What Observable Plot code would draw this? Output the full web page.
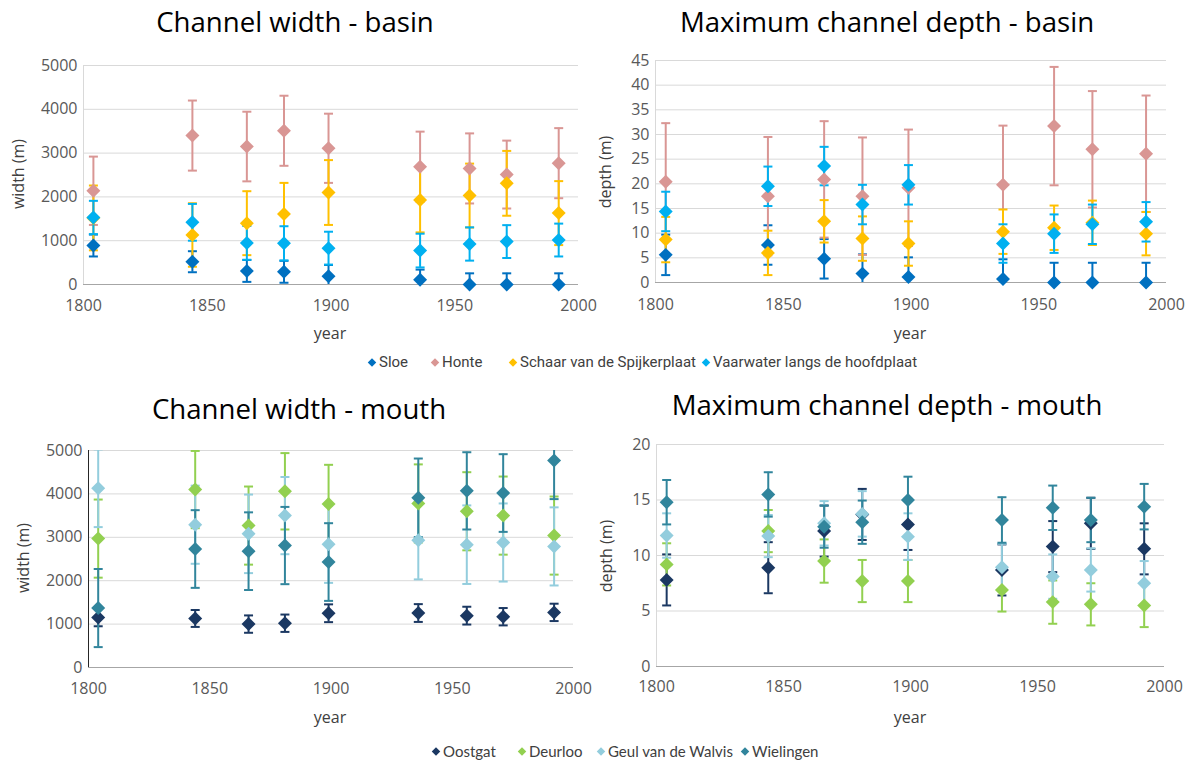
<!DOCTYPE html>
<html>
<head>
<meta charset="utf-8">
<script src="https://cdn.jsdelivr.net/npm/d3@7"></script>
<script src="https://cdn.jsdelivr.net/npm/@observablehq/plot@0.6"></script>
<style>
  html, body { margin: 0; padding: 0; background: #fff; }
  #page { position: relative; width: 1189px; height: 763px; background: #fff; overflow: hidden; font-family: "Open Sans", sans-serif; }
  .title { position: absolute; width: 600px; text-align: center; font-size: 27.6px; color: #000; white-space: nowrap; line-height: 1; }
  .axlabel { position: absolute; font-size: 16px; color: #404040; white-space: nowrap; line-height: 1; transform: translate(-50%, -50%); }
  .ylab { transform: translate(-50%, -50%) rotate(-90deg); }
  .chart { position: absolute; }
  .leg { position: absolute; white-space: nowrap; line-height: 1; color: #404040; transform: translateY(-50%); display: flex; align-items: center; }
  .leg i { display: inline-block; width: 6px; height: 6px; transform: rotate(45deg); margin-right: 4px; }
</style>
</head>
<body>
<div id="page"></div>
<script>
// Survey years shared by all four panels
const years = [1804, 1844, 1866, 1881, 1899, 1936, 1956, 1971, 1992];
const yearTicks = [1800, 1850, 1900, 1950, 2000];

// Basin channels: width (m) and error margin
const sloeWidth = [890, 520, 310, 290, 190, 110, 0, 0, 0];
const sloeWidthErr = [250, 240, 250, 250, 255, 230, 255, 255, 255];
const honteWidth = [2140, 3400, 3150, 3510, 3110, 2690, 2650, 2510, 2770];
const honteWidthErr = [780, 800, 795, 800, 790, 800, 800, 775, 800];
const schaarWidth = [1520, 1130, 1400, 1610, 2100, 1930, 2030, 2310, 1630];
const schaarWidthErr = [740, 725, 730, 710, 740, 740, 730, 740, 730];
const vaarwaterWidth = [1530, 1420, 950, 940, 830, 775, 925, 980, 1015];
const vaarwaterWidthErr = [380, 420, 385, 390, 375, 385, 380, 375, 375];

// Basin channels: maximum depth (m) and error margin
const sloeDepth = [5.6, 7.6, 4.8, 1.8, 1.1, 0.7, 0, 0, 0];
const sloeDepthErr = [4.1, 4.0, 4.0, 3.9, 4.0, 4.0, 4.0, 4.0, 4.0];
const honteDepth = [20.4, 17.5, 20.9, 17.5, 19.2, 19.8, 31.7, 27.0, 26.1];
const honteDepthErr = [11.9, 12.0, 11.8, 11.9, 11.8, 12.0, 12.0, 11.8, 11.8];
const schaarDepth = [8.7, 6.0, 12.4, 8.9, 7.9, 10.3, 11.1, 12.1, 9.9];
const schaarDepthErr = [4.6, 4.5, 4.3, 4.5, 4.5, 4.5, 4.5, 4.5, 4.4];
const vaarwaterDepth = [14.4, 19.5, 23.6, 15.8, 19.8, 7.9, 9.9, 11.8, 12.3];
const vaarwaterDepthErr = [4.0, 4.0, 3.9, 4.0, 4.0, 3.9, 3.9, 4.0, 4.0];

// Mouth channels: width (m) and error margin
const oostgatWidth = [1150, 1130, 1000, 1020, 1250, 1255, 1195, 1170, 1270];
const oostgatWidthErr = [200, 195, 200, 200, 205, 205, 205, 200, 200];
const deurlooWidth = [2970, 4100, 3270, 4060, 3770, 3780, 3600, 3500, 3040];
const deurlooWidthErr = [900, 890, 900, 880, 900, 900, 900, 900, 900];
const walvisWidth = [4130, 3290, 3080, 3500, 2840, 2930, 2830, 2880, 2790];
const walvisWidthErr = [895, 900, 905, 890, 890, 900, 905, 900, 900];
const wielingenWidth = [1370, 2730, 2680, 2810, 2430, 3910, 4070, 4020, 4770];
const wielingenWidthErr = [900, 895, 895, 890, 895, 905, 890, 895, 890];

// Mouth channels: maximum depth (m) and error margin
const oostgatDepth = [7.8, 8.9, 12.2, 13.7, 12.8, 8.7, 10.8, 12.9, 10.6];
const oostgatDepthErr = [2.3, 2.3, 2.3, 2.3, 2.3, 2.3, 2.3, 2.3, 2.3];
const deurlooDepth = [9.2, 12.2, 9.5, 7.7, 7.7, 6.9, 5.8, 5.6, 5.5];
const deurlooDepthErr = [1.9, 1.9, 1.95, 1.9, 1.9, 1.95, 1.95, 1.9, 1.95];
const walvisDepth = [11.8, 11.75, 12.9, 13.75, 11.7, 8.95, 8.1, 8.7, 7.5];
const walvisDepthErr = [2.0, 1.9, 2.0, 2.05, 2.1, 2.1, 2.0, 1.95, 2.0];
const wielingenDepth = [14.8, 15.5, 12.6, 13.0, 15.0, 13.2, 14.3, 13.2, 14.4];
const wielingenDepthErr = [2.0, 2.0, 1.9, 1.95, 2.1, 2.05, 2.0, 2.0, 2.05];

const basinNames = ["Sloe", "Honte", "Schaar van de Spijkerplaat", "Vaarwater langs de hoofdplaat"];
const basinColors = ["#0070c0", "#d99694", "#ffc000", "#00b0f0"];
const mouthNames = ["Oostgat", "Deurloo", "Geul van de Walvis", "Wielingen"];
const mouthColors = ["#1b3862", "#92d050", "#93cddd", "#31859c"];

const page = document.getElementById("page");

function rows(values, errs) {
  return years.map((year, i) => ({year, v: values[i], lo: values[i] - errs[i], hi: values[i] + errs[i]}));
}

// Short horizontal cap for the error whiskers
const cap = {draw(ctx) { ctx.moveTo(-4.5, 0); ctx.lineTo(4.5, 0); }};

function whiskerMarks(data, color) {
  return [
    Plot.ruleX(data, {x: "year", y1: "lo", y2: "hi", stroke: color, strokeWidth: 2, clip: true}),
    Plot.dot(data, {x: "year", y: "lo", symbol: cap, r: 4, stroke: color, strokeWidth: 2, clip: true}),
    Plot.dot(data, {x: "year", y: "hi", symbol: cap, r: 4, stroke: color, strokeWidth: 2, clip: true})
  ];
}

function diamondMarks(data, color) {
  return [Plot.dot(data, {x: "year", y: "v", symbol: "diamond2", r: 6.3, fill: color, stroke: "none"})];
}

function panel(o) {
  const svg = Plot.plot({
    width: o.width, height: o.height,
    marginLeft: o.ml, marginRight: o.mr, marginTop: o.mt, marginBottom: o.mb,
    style: {fontFamily: "Open Sans, sans-serif", fontSize: "16px", color: "#595959", background: "transparent", overflow: "visible"},
    x: {domain: [1800, 2000]},
    y: {domain: o.yDomain},
    marks: [
      Plot.ruleY(o.yTicks.filter(d => d > 0), {stroke: "#d9d9d9", strokeWidth: 1}),
      Plot.ruleX([1800], {stroke: o.yAxisColor, strokeWidth: 1}),
      Plot.ruleY([0], {stroke: "#a6a6a6", strokeWidth: 1}),
      Plot.axisX({ticks: yearTicks, tickFormat: "d", tickSize: 0, tickPadding: o.xPad, label: null, fill: "#595959"}),
      Plot.axisY({ticks: o.yTicks, tickFormat: "d", tickSize: 0, tickPadding: 6, label: null, fill: "#595959"}),
      // all whiskers sit beneath all markers
      ...o.series.flatMap(s => whiskerMarks(s.data, s.color)),
      ...o.series.flatMap(s => diamondMarks(s.data, s.color))
    ]
  });
  svg.classList.add("chart");
  svg.style.left = o.left + "px";
  svg.style.top = o.top + "px";
  page.appendChild(svg);
}

function text(cls, str, css) {
  const d = document.createElement("div");
  d.className = cls;
  d.textContent = str;
  Object.assign(d.style, css);
  page.appendChild(d);
  return d;
}

function legend(names, colors, xs, y, font) {
  names.forEach((n, i) => {
    const d = document.createElement("div");
    d.className = "leg";
    Object.assign(d.style, {left: xs[i] + "px", top: y + "px"}, font);
    const m = document.createElement("i");
    m.style.background = colors[i];
    d.appendChild(m);
    d.appendChild(document.createTextNode(n));
    page.appendChild(d);
  });
}

const basinW = [sloeWidth, honteWidth, schaarWidth, vaarwaterWidth];
const basinWE = [sloeWidthErr, honteWidthErr, schaarWidthErr, vaarwaterWidthErr];
const basinD = [sloeDepth, honteDepth, schaarDepth, vaarwaterDepth];
const basinDE = [sloeDepthErr, honteDepthErr, schaarDepthErr, vaarwaterDepthErr];
const mouthW = [oostgatWidth, deurlooWidth, walvisWidth, wielingenWidth];
const mouthWE = [oostgatWidthErr, deurlooWidthErr, walvisWidthErr, wielingenWidthErr];
const mouthD = [oostgatDepth, deurlooDepth, walvisDepth, wielingenDepth];
const mouthDE = [oostgatDepthErr, deurlooDepthErr, walvisDepthErr, wielingenDepthErr];

const mk = (vals, errs, colors) => vals.map((v, i) => ({data: rows(v, errs[i]), color: colors[i]}));

// Channel width - basin
panel({left: 0, top: 50, width: 590, height: 300, ml: 83, mr: 12, mt: 15, mb: 66, xPad: 15,
  yDomain: [0, 5000], yTicks: d3.range(0, 5001, 1000), yAxisColor: "#d9d9d9",
  series: mk(basinW, basinWE, basinColors)});
// Maximum channel depth - basin
panel({left: 590, top: 40, width: 599, height: 310, ml: 65, mr: 23, mt: 20, mb: 68, xPad: 16,
  yDomain: [0, 45], yTicks: d3.range(0, 46, 5), yAxisColor: "#d9d9d9",
  series: mk(basinD, basinDE, basinColors)});
// Channel width - mouth
panel({left: 0, top: 430, width: 590, height: 300, ml: 88, mr: 17, mt: 20, mb: 63, xPad: 15,
  yDomain: [0, 5000], yTicks: d3.range(0, 5001, 1000), yAxisColor: "#262626",
  series: mk(mouthW, mouthWE, mouthColors)});
// Maximum channel depth - mouth
panel({left: 590, top: 424, width: 599, height: 310, ml: 66, mr: 25, mt: 20, mb: 68, xPad: 14,
  yDomain: [0, 20], yTicks: d3.range(0, 21, 5), yAxisColor: "#d9d9d9",
  series: mk(mouthD, mouthDE, mouthColors)});

// Titles
text("title", "Channel width - basin", {left: (295 - 300) + "px", top: "8px"});
text("title", "Maximum channel depth - basin", {left: (887 - 300) + "px", top: "8px"});
text("title", "Channel width - mouth", {left: (299 - 300) + "px", top: "395px"});
text("title", "Maximum channel depth - mouth", {left: (887 - 300) + "px", top: "391px"});

// Axis labels
text("axlabel", "year", {left: "330px", top: "333px"});
text("axlabel", "year", {left: "910px", top: "333px"});
text("axlabel", "year", {left: "330px", top: "717px"});
text("axlabel", "year", {left: "910px", top: "717px"});
text("axlabel ylab", "width (m)", {left: "18px", top: "174px"});
text("axlabel ylab", "depth (m)", {left: "605px", top: "172px"});
text("axlabel ylab", "width (m)", {left: "23px", top: "558px"});
text("axlabel ylab", "depth (m)", {left: "606px", top: "556px"});

// Legends
legend(basinNames, basinColors, [369, 432, 510, 703], 362, {fontFamily: "Liberation Sans Narrow, Roboto, sans-serif", fontSize: "15px"});
legend(mouthNames, mouthColors, [433, 519, 598, 742], 751, {fontFamily: "Lato, sans-serif", fontSize: "15px"});
</script>
</body>
</html>
